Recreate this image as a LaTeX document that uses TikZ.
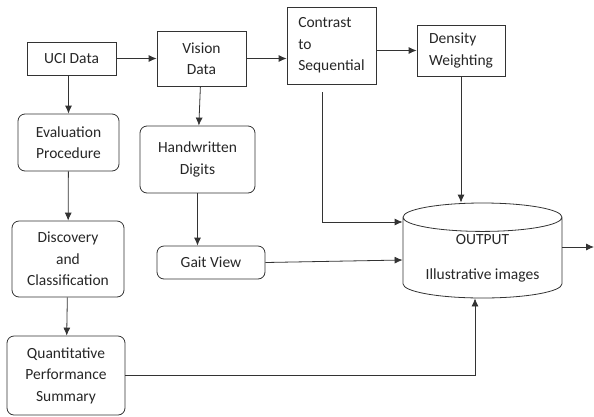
\documentclass[tikz,border=0pt]{standalone}
\usepackage{fontspec}
\setmainfont{Carlito}
\usetikzlibrary{positioning}
\usetikzlibrary{calc}
\usetikzlibrary{arrows.meta}
\usetikzlibrary{shapes.geometric}

\begin{document}
\begin{tikzpicture}[x=1pt,y=-1pt,>={Latex[length=8pt,width=7pt]},
  every node/.style={font=\fontsize{15.5}{21.5}\selectfont,text=black!85},
  box/.style={draw=black!80,line width=0.8pt,rectangle,inner sep=0pt,align=center},
  rbox/.style={box,rounded corners=7pt},
  lbox/.style={box,align=left},
  line/.style={draw=black!80,line width=0.8pt}]
\useasboundingbox (0,0) rectangle (594,416);

\node[box,minimum width=89pt,minimum height=33pt]   (uci)      at (71.5,58.5)  {UCI Data};
\node[box,minimum width=89pt,minimum height=55pt]   (vision)   at (201.5,58.5) {Vision\\Data};
\node[lbox,minimum width=89pt,minimum height=77pt]  (contrast) at (331.5,45.5) {Contrast\\to\\Sequential};
\node[lbox,minimum width=88pt,minimum height=51pt]  (density)  at (461,50.5)   {Density\\Weighting};
\node[rbox,minimum width=101pt,minimum height=57pt] (eval)     at (68.5,142.5) {Evaluation\\Procedure};
\node[rbox,minimum width=115pt,minimum height=67pt] (hand)     at (197.5,159.5) {Handwritten\\Digits};
\node[rbox,minimum width=112pt,minimum height=76pt] (disc)     at (68,259)     {Discovery\\and\\Classification};
\node[rbox,minimum width=108pt,minimum height=33pt] (gait)     at (211,262.5)  {Gait View};
\node[rbox,minimum width=118pt,minimum height=79pt] (quant)    at (66,375.5)   {Quantitative\\Performance\\Summary};
\node[draw=black!80,line width=0.8pt,cylinder,shape border rotate=90,aspect=0.25,
      minimum width=159pt,minimum height=95pt,inner sep=0pt,align=center,
      anchor=shape center]
      (out) at (482.5,250.5) {OUTPUT\\[13.5pt]Illustrative images};

% points on the cylinder
\coordinate (outc) at (out.shape center);
\coordinate (exit) at (594,247);
\coordinate (c1)   at (322,92);

\path[->,every edge/.append style={line}]
      (uci) edge (vision)
      (vision.east) edge (vision.east -| contrast.west)
      (density -| contrast.east) edge (density.west)
      (uci.south -| eval) edge (eval)
      (eval) edge (disc)
      (disc) edge (quant)
      (vision) edge (hand)
      (hand) edge (hand |- gait.north)
      (density.south) edge (density.south |- out.north)
      (gait.east) edge ($(outc -| out.west)+(0,9.5)$)
      ($(outc -| out.east)+(0,-3.5)$) edge (exit);
\draw[line,->] (c1) |- ($(outc -| out.west)+(0,-28.5)$);
\draw[line,->] (quant.east) -| ([xshift=-7.5pt]out.south);

\end{tikzpicture}
\end{document}
